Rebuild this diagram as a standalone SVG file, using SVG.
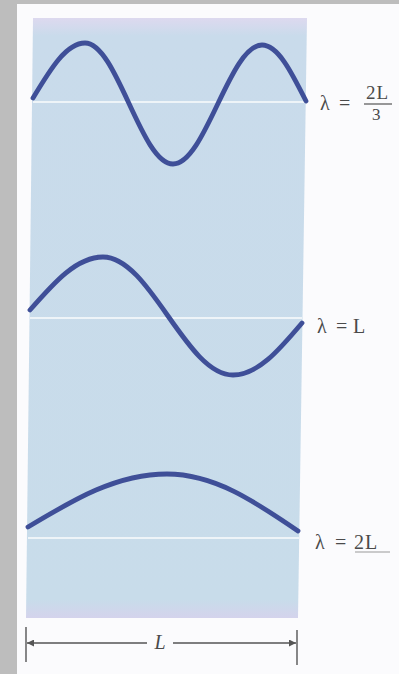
<svg xmlns="http://www.w3.org/2000/svg" width="399" height="674" viewBox="0 0 399 674">
<defs>
<style>
.wave{fill:none;stroke:#3f4f98;stroke-width:4.8;stroke-linecap:round;stroke-linejoin:round}
.axis{stroke:#eef4f8;stroke-width:2}
.lbl{font-family:"Liberation Serif","Times New Roman",serif;fill:#4a4a4a;font-size:20px}
.dim{stroke:#555;stroke-width:1.4;fill:none}
</style>
<linearGradient id="panelGrad" x1="0" y1="0" x2="0" y2="1">
<stop offset="0" stop-color="#ddd9ef"/>
<stop offset="0.03" stop-color="#c9dbeb"/>
<stop offset="0.97" stop-color="#c8dcea"/>
<stop offset="1" stop-color="#d4d3ec"/>
</linearGradient>
<marker id="arr" viewBox="0 0 10 10" refX="10" refY="5" markerWidth="9" markerHeight="7" markerUnits="userSpaceOnUse" orient="auto-start-reverse">
<path d="M0,0 L10,5 L0,10 z" fill="#555"/>
</marker>
</defs>
<rect x="0" y="0" width="399" height="674" fill="#bdbdbd"/>
<rect x="17" y="4" width="382" height="670" fill="#fbfbfd"/>
<polygon id="panel" points="33,18 307,18 298,618 26,618" fill="url(#panelGrad)"/>

<g id="mode3">
<line class="axis" x1="33" y1="102" x2="306" y2="102"/>
<path class="wave" d="M33,98 C50.3,69.2 66.2,43 85,43 C117,43 141,164 173,164 C205.3,164 229.7,45 262,45 C277.9,45 291.3,71.7 306,101"/>
<g class="lbl">
<text x="320" y="110">λ</text>
<text x="339" y="110">=</text>
<text x="366" y="99" font-size="19" letter-spacing="1">2L</text>
<line x1="364" y1="104" x2="392" y2="104" stroke="#555" stroke-width="1.2"/>
<text x="372" y="120" font-size="17">3</text>
</g>
</g>

<g id="mode2">
<line class="axis" x1="30" y1="318" x2="302" y2="318"/>
<path class="wave" d="M30,310 C54.3,282.3 76.6,257 103,257 C150.2,257 185.8,375 233,375 C257.9,375 279,350.2 302,323"/>
<g class="lbl">
<text x="317" y="333">λ</text>
<text x="336" y="333">=</text>
<text x="353" y="333">L</text>
</g>
</g>

<g id="mode1">
<line class="axis" x1="28" y1="538" x2="300" y2="538"/>
<path class="wave" d="M28,527 C74.3,499.2 116.8,474 167,474 C214.3,474 254.4,501.2 298,531"/>
<g class="lbl">
<text x="315" y="549">λ</text>
<text x="335" y="549">=</text>
<text x="354" y="549" letter-spacing="1">2L</text>
<line x1="355" y1="552" x2="390" y2="552" stroke="#999" stroke-width="1"/>
</g>
</g>

<g id="connectors">
<line class="dim" x1="26" y1="627" x2="26" y2="662"/>
<line class="dim" x1="297" y1="630" x2="297" y2="665"/>
<line class="dim" x1="147" y1="643" x2="27" y2="643" marker-end="url(#arr)"/>
<line class="dim" x1="173" y1="643" x2="296" y2="643" marker-end="url(#arr)"/>
<text class="lbl" x="160" y="649" text-anchor="middle" font-style="italic">L</text>
</g>
</svg>
